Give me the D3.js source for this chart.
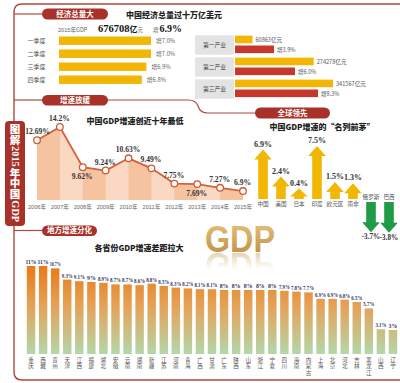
<!DOCTYPE html>
<html><head><meta charset="utf-8">
<script src="https://cdn.jsdelivr.net/npm/d3@7"></script>
<style>body{margin:0;background:#fff}svg{display:block}</style>
</head><body>
<script>
const quarters = ["一季度","二季度","三季度","四季度"];
const quarterGrowth = [7.0, 7.0, 6.9, 6.8];
const industries = ["第一产业","第二产业","第三产业"];
const industryValue = [60863, 274278, 341567];
const industryGrowth = [3.9, 6.0, 8.3];
const years = ["2006年","2007年","2008年","2009年","2010年","2011年","2012年","2013年","2014年","2015年"];
const yearGrowth = [12.69, 14.2, 9.62, 9.24, 10.63, 9.49, 7.75, 7.69, 7.27, 6.9];
const yearLabels = ["12.69%","14.2%","9.62%","9.24%","10.63%","9.49%","7.75%","7.69%","7.27%","6.9%"];
const countries = ["中国","美国","日本","印度","欧元区","南非","俄罗斯","巴西"];
const countryGrowth = [6.9, 2.4, 0.4, 7.5, 1.5, 1.3, -3.7, -3.8];
const provinces = ["重庆","西藏","贵州","天津","江西","福建","湖北","安徽","云南","湖南","新疆","江苏","河南","青海","广西","甘肃","广东","陕西","山东","浙江","宁夏","四川","海南","内蒙古","上海","北京","河北","吉林","黑龙江","山西","辽宁"];
const provinceGrowth = [11, 11, 10.7, 9.3, 9.1, 9, 8.9, 8.7, 8.7, 8.6, 8.8, 8.5, 8.3, 8.2, 8.1, 8.1, 8, 8, 8, 8, 8, 7.9, 7.8, 7.7, 6.9, 6.9, 6.8, 6.5, 5.7, 3.1, 3];
const totalGDP = "676708";
const totalGrowth = "6.9%";
const sideTitle = ["图","解","2015","年","中","国","GDP"];

const CJK = "'Noto Sans CJK SC', sans-serif";
const SERIF = "'Liberation Serif','DejaVu Serif',serif";
const RED = "#a8322a";
const FRAME = "#ad4a3c";
const YEL = "#f2b705";
const BARRED = "#c8372c";

const svg = d3.select("body").append("svg").attr("width",400).attr("height",383);
const defs = svg.append("defs");

// ---------- frame ----------
svg.append("path").attr("d","M400,4 H22 Q14,4 14,12 V372 Q14,380 22,380 H400")
  .attr("fill","none").attr("stroke",FRAME).attr("stroke-width",1.4);
["M14,14 H44","M14,100 H44","M106,100 H188 Q196,100 198,106 Q200,113 208,113 H258","M14,230.5 H44"]
  .forEach(p=>svg.append("path").attr("d",p).attr("fill","none").attr("stroke",FRAME).attr("stroke-width",1.2));

function pill(x,y,w,h,t){
  svg.append("rect").attr("x",x).attr("y",y).attr("width",w).attr("height",h).attr("rx",h/2).attr("fill",RED);
  svg.append("text").attr("x",x+w/2).attr("y",y+h/2+2.7).attr("text-anchor","middle")
    .attr("font-family",CJK).attr("font-size",7.5).attr("font-weight",700).attr("fill","#fff").text(t);
}
pill(42,8.5,66,11,"经济总量大");
pill(42,95,66,10.5,"增速放缓");
pill(255,107.5,75,11,"全球领先");
pill(42,225.5,55,10.5,"地方增速分化");

// vertical title box: one text element, CJK upright, Latin glyphs rotated
svg.append("rect").attr("x",5).attr("y",121).attr("width",20).attr("height",105).attr("rx",4).attr("fill",RED);
{
  const fs = 10.5;
  const g = svg.append("g");
  const vt = g.append("text").attr("font-weight",900).attr("font-size",fs).attr("fill","#fff");
  const meas = svg.append("text").attr("font-family",SERIF).attr("font-size",fs).attr("font-weight",700);
  let yy = 0;
  sideTitle.forEach(seg=>{
    if(/^[\u4e00-\u9fff]$/.test(seg)){
      vt.append("tspan").attr("x",15-fs/2).attr("y",yy+fs*0.88).attr("font-family",CJK).text(seg);
      yy += fs + 0.4;
    } else {
      yy += 0.6;
      Array.from(seg).forEach(ch=>{
        meas.text(ch);
        const w = meas.node().getComputedTextLength();
        vt.append("tspan").attr("x",15-fs*0.33).attr("y",yy).attr("rotate",90)
          .attr("font-family",SERIF).attr("font-weight",700).text(ch);
        yy += w;
      });
      yy += 0.8;
    }
  });
  meas.remove();
  const avail = 99;
  const s = Math.min(1, avail/yy);
  g.attr("transform",`translate(15,${124 + (avail - yy*s)/2}) scale(1,${s}) translate(-15,0)`);
}

function title(x,y,t){
  svg.append("text").attr("x",x).attr("y",y).attr("text-anchor","middle")
   .attr("font-family",CJK).attr("font-size",8).attr("font-weight",900).attr("fill","#222").text(t);
}
title(174,18,"中国经济总量过十万亿美元");
title(135,124,"中国GDP增速创近十年最低");
title(322,130,"中国GDP增速的“名列前茅”");
title(139,251,"各省份GDP增速差距拉大");

// ---------- section 1: quarters ----------
const gtxt = svg.append("text").attr("y",31.5).attr("fill","#333");
gtxt.append("tspan").attr("x",58).attr("font-family","'Liberation Sans',sans-serif").attr("font-size",5.6).attr("fill","#666").text("2015");
gtxt.append("tspan").attr("font-family",CJK).attr("font-size",5.6).attr("fill","#666").text("年GDP");
gtxt.append("tspan").attr("x",98).attr("font-family",SERIF).attr("font-weight",700).attr("font-size",10.5).attr("fill","#111").text(totalGDP);
gtxt.append("tspan").attr("font-family",CJK).attr("font-weight",700).attr("font-size",8).attr("fill","#111").text("亿");
gtxt.append("tspan").attr("font-family",CJK).attr("font-size",5.5).attr("fill","#666").text("元");
gtxt.append("tspan").attr("x",153).attr("font-family",CJK).attr("font-size",5.5).attr("fill","#666").text("增");
gtxt.append("tspan").attr("dx",1).attr("font-family",SERIF).attr("font-weight",700).attr("font-size",10).attr("fill","#111").text(totalGrowth);

const qx = d3.scaleLinear().domain([5,7]).range([0,92]);
const qy = d3.scaleBand().domain(quarters).range([34.2,86.2]).paddingInner(0.35).paddingOuter(0.175);
quarters.forEach((q,i)=>{
  const y = qy(q), h = qy.bandwidth();
  svg.append("text").attr("x",36.5).attr("y",y+h/2+2.2).attr("text-anchor","middle")
    .attr("font-family",CJK).attr("font-size",6).attr("fill","#555").text(q);
  svg.append("rect").attr("x",59).attr("y",y).attr("width",qx(quarterGrowth[i])).attr("height",h).attr("fill",YEL);
  svg.append("text").attr("x",59+qx(quarterGrowth[i])+5).attr("y",y+h/2+2.2)
    .attr("font-family",CJK).attr("font-size",5.8).attr("fill","#666").text("增"+quarterGrowth[i].toFixed(1)+"%");
});

// ---------- section 1: industries ----------
const iv = d3.scaleLinear().domain([0,341567]).range([0,98]);
const ig = d3.scaleLinear().domain([0,8.3]).range([0,83]);
const iy = d3.scaleBand().domain(industries).range([34,100]).paddingInner(0.12).paddingOuter(0.06);
industries.forEach((d,i)=>{
  const y = iy(d), h = iy.bandwidth();
  svg.append("rect").attr("x",195).attr("y",y).attr("width",39).attr("height",h).attr("fill","#e3e3e3");
  svg.append("text").attr("x",214.5).attr("y",y+h/2+2.2).attr("text-anchor","middle")
    .attr("font-family",CJK).attr("font-size",5.8).attr("fill","#444").text(d);
  svg.append("rect").attr("x",235).attr("y",y+0.3).attr("width",iv(industryValue[i])).attr("height",7.6).attr("fill",YEL);
  svg.append("rect").attr("x",235).attr("y",y+10.2).attr("width",ig(industryGrowth[i])).attr("height",7.6).attr("fill",BARRED);
  svg.append("text").attr("x",235+iv(industryValue[i])+3).attr("y",y+6.2)
    .attr("font-family",CJK).attr("font-size",5.6).attr("fill","#555").text(industryValue[i]+"亿元");
  svg.append("text").attr("x",235+ig(industryGrowth[i])+3).attr("y",y+16.2)
    .attr("font-family",CJK).attr("font-size",5.6).attr("fill","#555").text("增"+industryGrowth[i].toFixed(1)+"%");
});

// ---------- section 2: line chart ----------
const lx = d3.scalePoint().domain(years).range([37,243]);
const ly = d3.scaleLinear().domain([5.88,14.2]).range([200,127]);
const pts = years.map((y,i)=>[lx(y), ly(yearGrowth[i])]);
const area = d3.area().x(d=>d[0]).y0(200).y1(d=>d[1]);
defs.append("clipPath").attr("id","areaclip").append("path").attr("d",area(pts));
const ag = svg.append("g").attr("clip-path","url(#areaclip)");
ag.append("rect").attr("x",30).attr("y",110).attr("width",220).attr("height",95).attr("fill","#fad8c2");
years.slice(0,-1).forEach((y,i)=>{
  if(i%2===0) ag.append("rect").attr("x",lx(y)).attr("y",110).attr("width",lx.step()).attr("height",95).attr("fill","#f6c3a1");
});
svg.append("path").attr("d",d3.line()(pts)).attr("fill","none").attr("stroke","#d5603a").attr("stroke-width",1.8);
pts.forEach(p=>{
  svg.append("circle").attr("cx",p[0]).attr("cy",p[1]).attr("r",3.3).attr("fill","#fff").attr("stroke","#cf5a36").attr("stroke-width",1.3);
});
const below = new Set(["2008年","2013年"]);
years.forEach((y,i)=>{
  const p = pts[i];
  svg.append("text").attr("x",i===0? p[0]+0.5 : p[0]-0.5).attr("y",below.has(y)? p[1]+12 : p[1]-6).attr("text-anchor","middle")
    .attr("font-family",SERIF).attr("font-weight",700).attr("font-size",7.6).attr("fill","#333").text(yearLabels[i]);
  const t = svg.append("text").attr("x",p[0]).attr("y",209).attr("text-anchor","middle")
    .attr("font-family","'Liberation Sans',sans-serif").attr("font-size",5.6).attr("fill","#666");
  t.append("tspan").text(y.replace("年",""));
  t.append("tspan").attr("font-family",CJK).text("年");
});

// ---------- section 3: arrows ----------
const ax = d3.scaleBand().domain(countries).range([254,398]);
const al = d3.scaleLinear().domain([0,7.5]).range([8,53]);
countries.forEach((c,i)=>{
  const v = countryGrowth[i], cx = ax(c)+ax.bandwidth()/2, L = al(Math.abs(v));
  const bw = 4.8, hw = 8.8, hh = Math.min(10, L*0.75);
  if(v>=0){
    const yb = 199;
    const d = `M${cx-bw},${yb} V${yb-L+hh} H${cx-hw} L${cx},${yb-L} L${cx+hw},${yb-L+hh} H${cx+bw} V${yb} Z`;
    svg.append("path").attr("d",d).attr("fill",YEL);
    svg.append("text").attr("x",cx).attr("y",yb-L-3).attr("text-anchor","middle")
      .attr("font-family",SERIF).attr("font-weight",700).attr("font-size",8).attr("fill","#333").text(v+"%");
    svg.append("text").attr("x",cx).attr("y",206).attr("text-anchor","middle")
      .attr("font-family",CJK).attr("font-size",5.6).attr("fill","#555").text(c);
  } else {
    const yt = 202;
    const d = `M${cx-bw},${yt} V${yt+L-hh} H${cx-hw} L${cx},${yt+L} L${cx+hw},${yt+L-hh} H${cx+bw} V${yt} Z`;
    svg.append("path").attr("d",d).attr("fill","#1f9a46");
    svg.append("text").attr("x",cx).attr("y",yt+L+7).attr("text-anchor","middle")
      .attr("font-family",SERIF).attr("font-weight",700).attr("font-size",7.2).attr("fill","#333").text(v+"%");
    svg.append("text").attr("x",cx).attr("y",199).attr("text-anchor","middle")
      .attr("font-family",CJK).attr("font-size",5.6).attr("fill","#555").text(c);
  }
});

// ---------- section 4: big GDP with faded reflection ----------
const gg = defs.append("linearGradient").attr("id","gold").attr("x1",0).attr("y1",0).attr("x2",0).attr("y2",1);
gg.append("stop").attr("offset","0%").attr("stop-color","#e8c57e");
gg.append("stop").attr("offset","100%").attr("stop-color","#b98a3e");
const mg = defs.append("linearGradient").attr("id","fade").attr("gradientUnits","userSpaceOnUse")
  .attr("x1",0).attr("y1",252).attr("x2",0).attr("y2",270);
mg.append("stop").attr("offset","0%").attr("stop-color","#fff").attr("stop-opacity",0.45);
mg.append("stop").attr("offset","100%").attr("stop-color","#fff").attr("stop-opacity",0);
defs.append("mask").attr("id","reflmask").attr("maskUnits","userSpaceOnUse")
  .attr("x",190).attr("y",240).attr("width",110).attr("height",40)
  .append("rect").attr("x",190).attr("y",240).attr("width",110).attr("height",40).attr("fill","url(#fade)");
svg.append("text").attr("id","bigGDP").attr("x",205).attr("y",252).attr("font-family","'Liberation Sans',sans-serif").attr("font-weight",700)
  .attr("font-size",37).attr("textLength",70).attr("lengthAdjust","spacingAndGlyphs").attr("fill","url(#gold)").text("GDP");
svg.append("g").attr("mask","url(#reflmask)")
  .append("use").attr("href","#bigGDP").attr("transform","translate(0,505) scale(1,-1)");

// ---------- section 4: province bars ----------
const pg = defs.append("linearGradient").attr("id","pbar").attr("gradientUnits","userSpaceOnUse")
  .attr("x1",0).attr("y1",266).attr("x2",0).attr("y2",354);
pg.append("stop").attr("offset","0%").attr("stop-color","#e87a16");
pg.append("stop").attr("offset","45%").attr("stop-color","#e5a257");
pg.append("stop").attr("offset","100%").attr("stop-color","#b3d7a9");
const px = d3.scaleBand().domain(provinces).range([25,399]).paddingInner(0.3).paddingOuter(0.15);
const py = d3.scaleLinear().domain([0,11]).range([354,266]);
provinces.forEach((p,i)=>{
  const x = px(p), w = px.bandwidth(), v = provinceGrowth[i];
  svg.append("rect").attr("x",x).attr("y",py(v)).attr("width",w).attr("height",354-py(v)).attr("fill","url(#pbar)");
  const lab = svg.append("text").attr("x",x+w/2).attr("y",py(v)-2).attr("text-anchor","middle")
    .attr("font-family",SERIF).attr("font-weight",700).attr("font-size",5.8).attr("fill","#2b3562").text(v+"%");
  const tw = lab.node().getComputedTextLength();
  if(tw > 11) lab.attr("textLength",11).attr("lengthAdjust","spacingAndGlyphs");
  const nm = svg.append("text").attr("text-anchor","middle")
    .attr("font-family",CJK).attr("font-size",5.6).attr("fill","#555");
  Array.from(p).forEach((ch,j)=>{
    nm.append("tspan").attr("x",x+w/2).attr("y",362+j*6.4).text(ch);
  });
});
</script>
</body></html>
